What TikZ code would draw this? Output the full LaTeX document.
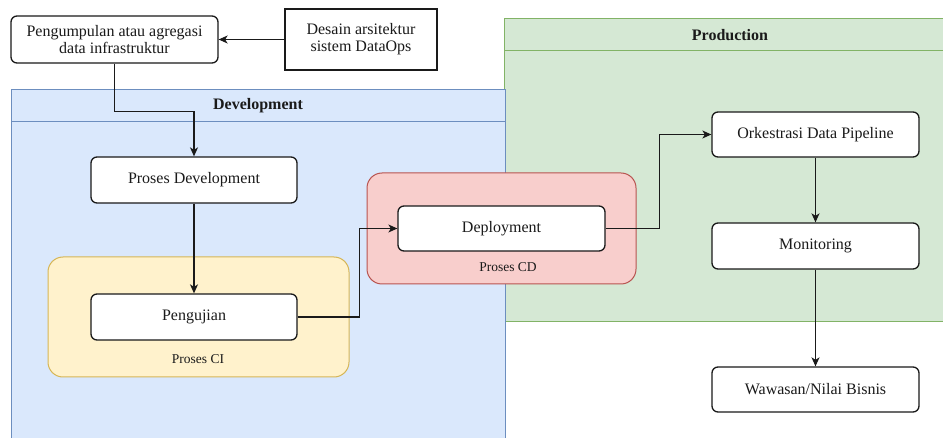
\documentclass[tikz,border=0pt]{standalone}
\usepackage{fontspec}
\setmainfont{Liberation Serif}
\usetikzlibrary{arrows.meta}

\definecolor{devfill}{HTML}{DAE8FC}
\definecolor{devline}{HTML}{6C8EBF}
\definecolor{prodfill}{HTML}{D5E8D4}
\definecolor{prodline}{HTML}{82B366}
\definecolor{cifill}{HTML}{FFF2CC}
\definecolor{ciline}{HTML}{D6B656}
\definecolor{cdfill}{HTML}{F8CECC}
\definecolor{cdline}{HTML}{B85450}
\definecolor{ink}{HTML}{1A1A1A}

\tikzset{
  procbox/.style={draw=ink, line width=1.3pt, fill=white, rounded corners=6pt,
    minimum width=206pt, minimum height=46pt, inner sep=2pt, align=center,
    font=\fontsize{16}{19}\selectfont, text=ink},
  plainbox/.style={procbox, rounded corners=0pt},
  flow/.style={draw=ink, line width=1.2pt,
    -{Stealth[length=9pt, width=8pt, inset=2.5pt]}},
  lane/.style={line width=1pt},
  group/.style={line width=1pt, rounded corners=15pt},
  headtext/.style={font=\bfseries\fontsize{16}{19}\selectfont, text=ink},
  grouptext/.style={font=\fontsize{13.5}{16}\selectfont, text=ink}
}

\begin{document}
\begin{tikzpicture}[x=1pt, y=-1pt]
  \useasboundingbox (0,0) rectangle (943,438);
  \clip (0,0) rectangle (943,438);
  \fill[white] (0,0) rectangle (943,438);

  % Production lane
  \draw[lane, draw=prodline, fill=prodfill] (504,19) rectangle (956,322);
  \draw[lane, draw=prodline] (504,51) -- (956,51);
  \node[headtext] (prodhead) at (730,35) {Production};

  % Development lane
  \draw[lane, draw=devline, fill=devfill] (11,90) rectangle (505,450);
  \draw[lane, draw=devline] (11,122) -- (505,122);
  \node[headtext] (devhead) at (258,106) {Development};

  % CI and CD groups
  \draw[group, draw=ciline, fill=cifill] (48,257) rectangle (349,377);
  \node[grouptext] (cilabel) at (198,359) {Proses CI};
  \draw[group, draw=cdline, fill=cdfill] (367,173) rectangle (636,284);
  \node[grouptext] (cdlabel) at (508,267) {Proses CD};

  % Process steps
  \node[procbox, minimum width=207pt, minimum height=47pt] (pg) at (114.5,39.5)
    {Pengumpulan atau agregasi\\[-2pt]data infrastruktur};
  \node[plainbox, minimum width=152pt, minimum height=61pt] (ds) at (361,39.5)
    {Desain arsitektur\\[-2pt]sistem DataOps};
  \node[procbox] (pdev) at (194,180) {Proses Development};
  \node[procbox] (uji) at (194,317) {Pengujian};
  \node[procbox, minimum width=207pt, minimum height=45pt] (dep) at (501.5,228.5) {Deployment};
  \node[procbox, minimum width=207pt, minimum height=45pt] (ork) at (815.5,134.5) {Orkestrasi Data Pipeline};
  \node[procbox, minimum width=207pt] (mon) at (815.5,246) {Monitoring};
  \node[procbox, minimum width=207pt, minimum height=45pt] (waw) at (815.5,389.5) {Wawasan/Nilai Bisnis};

  % Connectors
  \draw[flow] (ds.west) -- (pg.east);
  \draw[flow] (pg.south) -- ++(0,48) -| (pdev.north);
  \draw[flow] (pdev.south) -- (uji.north);
  \draw[flow] (uji.east) -- ++(62,0) |- (dep.west);
  \draw[flow] (dep.east) -- ++(54,0) |- (ork.west);
  \draw[flow] (ork.south) -- (mon.north);
  \draw[flow] (mon.south) -- (waw.north);
\end{tikzpicture}
\end{document}
